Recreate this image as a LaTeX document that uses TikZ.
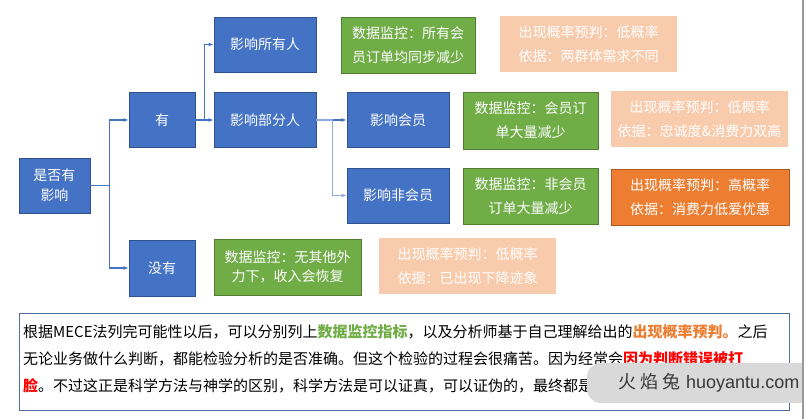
\documentclass[tikz,border=0pt]{standalone}
\usepackage{fontspec}
\setmainfont{Noto Sans CJK SC}
\newfontfamily\wmfont{Liberation Sans}
\usetikzlibrary{arrows.meta}
\definecolor{boxblue}{HTML}{4472C4}
\definecolor{boxblueline}{HTML}{2F528F}
\definecolor{boxgreen}{HTML}{70AD47}
\definecolor{boxgreenline}{HTML}{507E32}
\definecolor{boxpeach}{HTML}{F8CBAD}
\definecolor{boxorange}{HTML}{ED7D31}
\definecolor{boxorangeline}{HTML}{AE5A21}
\definecolor{lightlink}{HTML}{8FAADC}
\definecolor{noteline}{HTML}{4F6FA0}
\definecolor{wmgrey}{HTML}{D9D9D9}

\begin{document}
\begin{tikzpicture}[x=1pt,y=-1pt,
  every node/.style={inner sep=0, align=center, text=white, font=\fontsize{14}{24}\selectfont},
  bluebox/.style={draw=boxblueline, fill=boxblue, line width=0.8pt, minimum width=102, minimum height=55},
  greenbox/.style={draw=boxgreenline, fill=boxgreen, line width=0.8pt, minimum width=135, minimum height=56},
  peachbox/.style={fill=boxpeach, minimum width=177, minimum height=56},
  orangebox/.style={draw=boxorangeline, fill=boxorange, line width=0.8pt, minimum width=178, minimum height=56},
  link/.style={draw=boxblue, line width=1.1pt, -{Latex[length=5pt,width=4pt]}}]
\useasboundingbox (0,0) rectangle (807,419);
\fill[white] (0,0) rectangle (807,419);

\node[bluebox, minimum width=71] (impact) at (54.5,185.5) {是否有\\[-4pt]影响};
\node[bluebox, minimum width=66] (yes) at (162,120) {有};
\node[bluebox, minimum width=66, minimum height=56] (no) at (162,268) {没有};
\node[bluebox] (all) at (265,44.5) {影响所有人};
\node[bluebox] (part) at (265,120) {影响部分人};
\node[bluebox] (member) at (398,120) {影响会员};
\node[bluebox] (nonmember) at (398,195.5) {影响非会员};

\node[greenbox, minimum width=134] (monall) at (408,45) {数据监控：所有会\\员订单均同步减少};
\node[peachbox] (proball) at (588.5,44) {出现概率预判：低概率\\依据：两群体需求不同};
\node[greenbox, minimum height=57] (monmember) at (530.5,120.5) {数据监控：会员订\\单大量减少};
\node[peachbox] (probmember) at (699.5,119) {出现概率预判：低概率\\依据：忠诚度\&消费力双高};
\node[greenbox] (monnon) at (530.5,196) {数据监控：非会员\\订单大量减少};
\node[orangebox] (probnon) at (700,197) {出现概率预判：高概率\\依据：消费力低爱优惠};
\node[greenbox, minimum width=147, font=\fontsize{14}{19}\selectfont] (monno) at (287.5,267) {数据监控：无其他外\\力下，收入会恢复};
\node[peachbox] (probno) at (467.5,266) {出现概率预判：低概率\\依据：已出现下降迹象};

\draw[link] (impact.east) -- ++(19,0) |- (yes.west);
\draw[link] (impact.east) -- ++(19,0) |- (no.west);
\draw[link] (yes.east) -- (part.west);
\draw[link] (yes.east) -- ++(9,0) |- (all.west);
\draw[link] (part.east) -- (member.west);
\draw[link, draw=lightlink] (part.east) -- ++(16,0) |- (nonmember.west);

\node[draw=noteline, line width=0.8pt, minimum width=770, minimum height=97] (note) at (404,361.5) {};
\node[anchor=west, align=left, text=black, font=\fontsize{15}{27}\selectfont] (notetext) at (23,359)
 {根据MECE法列完可能性以后，可以分别列上\textbf{\color{boxgreen}数据监控指标}，以及分析师基于自己理解给出的\textbf{\color{boxorange}出现概率预判。}之后\\
  无论业务做什么判断，都能检验分析的是否准确。但这个检验的过程会很痛苦。因为经常会\textbf{\color{red}因为判断错误被打}\\
  \textbf{\color{red}脸}。不过这正是科学方法与神学的区别，科学方法是可以证真，可以证伪的，最终都是};

\begin{scope}
\clip (0,0) rectangle (803,419);
\fill[wmgrey, rounded corners=14] (587,363) rectangle (830,403);
\end{scope}
\node[anchor=west, text=black!78, font=\fontsize{18}{20}\selectfont] (watermark) at (618,383)
 {火\hspace{4pt}焰\hspace{4pt}兔\hspace{6pt}{\wmfont huoyantu.com}};
\draw[black!40, line width=1.6pt] (803,0) -- (803,419);
\end{tikzpicture}
\end{document}
